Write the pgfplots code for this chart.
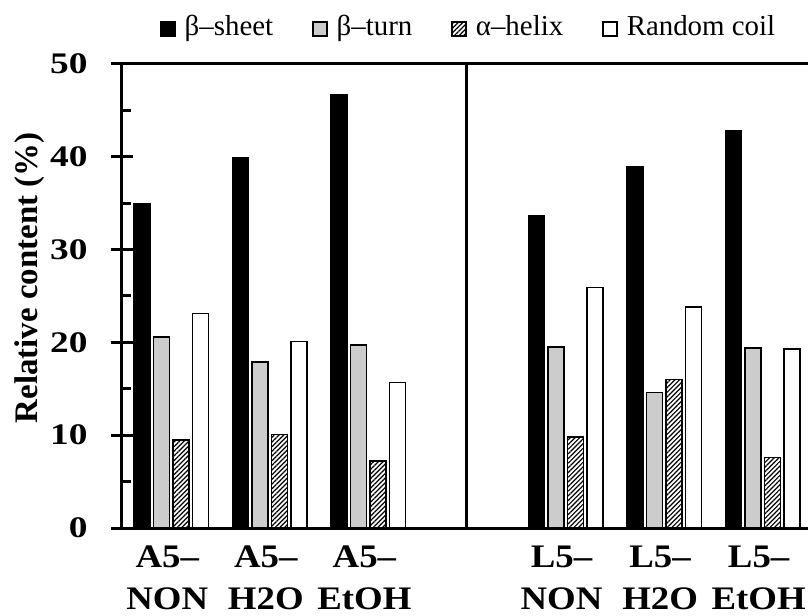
\documentclass[border=0pt]{standalone}
\usepackage{fontspec}
\setmainfont{Liberation Serif}
\newfontfamily\yfont[FakeStretch=1.25]{Liberation Serif}
\newfontfamily\xfont[FakeStretch=1.12]{Liberation Serif}
\usepackage{pgfplots}
\pgfplotsset{compat=1.18}
\usetikzlibrary{patterns.meta}
\pgfplotsset{
  sqlegend/.style={legend image code/.code={\draw[##1, line width=1.5bp] (0bp,-10bp) rectangle (14bp,4bp);}},
}
\begin{document}
\begin{tikzpicture}
\useasboundingbox (-122bp,-88bp) rectangle (686bp,528bp);
\begin{axis}[
  at={(0,0)}, anchor=south west,
  scale only axis, width=686bp, height=464bp,
  ybar=3.5bp, bar width=16bp,
  xmin=-0.5, xmax=6.46, ymin=0, ymax=50,
  axis y line*=left, axis x line*=box,
  axis line style={line width=3bp},
  every tick/.style={line width=3bp, black},
  xtick={0,1,2,4,5,6},
  xticklabels={{A5–\\NON},{A5–\\H2O},{A5–\\EtOH},{L5–\\NON},{L5–\\H2O},{L5–\\EtOH}},
  x tick style={draw=none},
  xticklabel style={align=center, inner sep=0pt, font=\xfont\bfseries\fontsize{33}{42}\selectfont, yshift=-7bp, xshift=-4bp},
  ytick={0,10,...,50}, minor y tick num=1,
  tick align=center, major tick length=22bp, minor tick length=9bp,
  minor y tick style={xshift=4.5bp},
  yticklabel style={font=\yfont\bfseries\fontsize{30}{30}\selectfont},
  yticklabel shift=20bp,
  /pgf/number format/assume math mode=true,
  ylabel={Relative content (\%)},
  ylabel style={font=\bfseries\fontsize{33}{33}\selectfont, at={(axis description cs:-0.134,0.539)}, anchor=center},
  legend columns=4,
  legend style={at={(axis description cs:0.0554,1.082)}, anchor=west, draw=none, fill=none, inner sep=0pt,
    nodes={inner sep=0pt}, font=\fontsize{29}{29}\selectfont,
    /tikz/every odd column/.append style={column sep=9bp},
    /tikz/every even column/.append style={column sep=39bp}},
  legend cell align=left,
]
\addplot[draw=black, line width=1.5bp, fill=black, sqlegend]
  coordinates {(0,34.9) (1,39.9) (2,46.7) (4,33.7) (5,38.9) (6,42.8)};
\addplot[draw=black, line width=1.5bp, fill=black!20, sqlegend]
  coordinates {(0,20.6) (1,17.9) (2,19.7) (4,19.5) (5,14.6) (6,19.4)};
\addplot[draw=black, line width=1.5bp, pattern={Lines[angle=45,distance=3.3bp,line width=1.2bp]}, pattern color=black, sqlegend]
  coordinates {(0,9.5) (1,10.1) (2,7.2) (4,9.8) (5,16.0) (6,7.6)};
\addplot[draw=black, line width=1.5bp, fill=white, sqlegend]
  coordinates {(0,23.1) (1,20.1) (2,15.7) (4,25.9) (5,23.8) (6,19.3)};
\legend{β–sheet, β–turn, α–helix, Random coil}
\draw[line width=3bp] (axis cs:3,0) -- (axis cs:3,50);
\end{axis}
\end{tikzpicture}
\end{document}
